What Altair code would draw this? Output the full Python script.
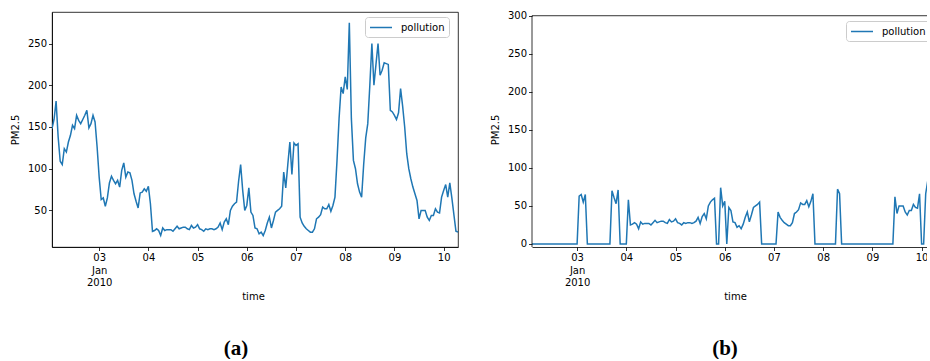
import altair as alt
import pandas as pd

# Hourly PM2.5, panel (a): 2010-01-02 01:00 .. 2010-01-10 07:00
start_a = "2010-01-02 01:00"
pm_a = [
    148, 159, 181, 138, 109, 105, 124, 120, 132, 140, 152, 148, 164, 158, 154, 159, 164, 170, 149, 154, 164, 156, 126,
    90, 63, 65, 55, 65, 83, 91, 86, 82, 86, 78, 98, 107, 90, 96, 95, 86, 70, 61, 53, 71, 72, 76, 73,
    79, 58, 25, 26, 28, 26, 20, 29, 26, 27, 27, 27, 25, 28, 31, 28, 29, 30, 30, 28, 27, 32, 29, 30,
    33, 28, 27, 25, 28, 27, 28, 28, 27, 28, 30, 35, 27, 36, 40, 33, 50, 55, 58, 60, 85, 105, 74, 50,
    56, 77, 48, 44, 29, 28, 22, 24, 20, 26, 35, 42, 29, 38, 48, 50, 52, 55, 96, 77, 105, 132, 93, 131,
    128, 130, 42, 35, 31, 28, 26, 24, 24, 28, 40, 42, 45, 54, 52, 52, 57, 49, 56, 66, 110, 160, 198, 190,
    210, 195, 275, 160, 110, 100, 82, 72, 66, 105, 137, 154, 200, 250, 200, 225, 250, 212, 218, 227, 226, 225, 170, 168,
    164, 159, 167, 196, 175, 150, 118, 100, 88, 78, 70, 62, 40, 50, 50, 50, 42, 38, 44, 44, 52, 48, 47, 66,
    74, 81, 66, 83, 65, 45, 25, 24,
]

# Panel (b): 2010-01-02 02:00 .. 2010-01-10 08:00 (gaps filled with 0)
start_b = "2010-01-02 02:00"
pm_b = [
    0, 0, 0, 0, 0, 0, 0, 0, 0, 0, 0, 0, 0, 0, 0, 0, 0, 0, 0, 0, 0, 0,
    0, 63, 65, 55, 65, 0, 0, 0, 0, 0, 0, 0, 0, 0, 0, 0, 0, 70, 61, 53, 71, 0, 0, 0,
    0, 58, 25, 26, 28, 26, 20, 29, 26, 27, 27, 27, 25, 28, 31, 28, 29, 30, 30, 28, 27, 32, 29, 30,
    33, 28, 27, 25, 28, 27, 28, 28, 27, 28, 30, 35, 27, 36, 40, 33, 50, 55, 58, 60, 0, 0, 74, 50,
    56, 0, 48, 44, 29, 28, 22, 24, 20, 26, 35, 42, 29, 38, 48, 50, 52, 55, 0, 0, 0, 0, 0, 0,
    0, 0, 42, 35, 31, 28, 26, 24, 24, 28, 40, 42, 45, 54, 52, 52, 57, 49, 56, 66, 0, 0, 0, 0,
    0, 0, 0, 0, 0, 0, 0, 72, 66, 0, 0, 0, 0, 0, 0, 0, 0, 0, 0, 0, 0, 0, 0, 0,
    0, 0, 0, 0, 0, 0, 0, 0, 0, 0, 0, 62, 40, 50, 50, 50, 42, 38, 44, 44, 52, 48, 47, 66,
    0, 0, 66, 83, 65, 45, 25, 24, 23,
]

series_name = ["pollution"]
day_ticks = [3, 4, 5, 6, 7, 8, 9, 10]
y_ticks_a = [50, 100, 150, 200, 250]
y_ticks_b = [0, 50, 100, 150, 200, 250, 300]
y_top_b = 300      # upper limit of panel (b)
y_bottom_b = -4    # lower limit of panel (b)
captions = ["(a)", "(b)"]

df_a = pd.DataFrame({
    "time": pd.date_range(start_a, periods=len(pm_a), freq="h").strftime("%Y-%m-%dT%H:%M:%S"),
    "pm": pm_a,
    "series": series_name[0],
})
times_b = pd.date_range(start_b, periods=len(pm_b), freq="h").strftime("%Y-%m-%dT%H:%M:%S")
df_b = pd.DataFrame({"time": times_b, "pm": pm_b, "series": series_name[0]})
# frame of panel (b): top edge at 300 and left edge at the first timestamp
df_b_top = pd.DataFrame({"pm": [y_top_b]})
df_b_left = pd.DataFrame({"time": [times_b[0]], "pm": [y_bottom_b], "pm_top": [y_top_b]})

FONT = "DejaVu Sans"
BLUE = "#1f77b4"

tick_dates = [alt.DateTime(year=2010, month=1, date=d) for d in day_ticks]
label_expr = "date(datum.value) == 3 ? ['03', 'Jan', '2010'] : timeFormat(datum.value, '%d')"


def x_axis(title_x):
    return alt.Axis(
        values=tick_dates, labelExpr=label_expr, title="time", grid=False,
        labelLineHeight=12.5, titlePadding=4, titleFontWeight="normal", titleX=title_x,
    )


def legend(lx, ly):
    return alt.Legend(
        title=None, orient="none", legendX=lx, legendY=ly,
        symbolType="M-1,0L3,0", symbolSize=121, symbolStrokeWidth=1.5,
        labelOffset=19, labelFontSize=10, labelFont=FONT, labelColor="#000000",
        padding=4, strokeColor="#cccccc", fillColor="#ffffff", cornerRadius=3,
    )


chart_a = alt.Chart(df_a).mark_line(strokeWidth=1.5, clip=True).encode(
    x=alt.X("time:T", axis=x_axis(201),
            scale=alt.Scale(domain=[alt.DateTime(year=2010, month=1, date=2, hours=1),
                                    alt.DateTime(year=2010, month=1, date=10, hours=7)])),
    y=alt.Y("pm:Q",
            axis=alt.Axis(values=y_ticks_a, title="PM2.5", grid=False, titlePadding=7,
                          titleFontWeight="normal"),
            scale=alt.Scale(domain=[6.2, 287.8], nice=False, zero=False)),
    color=alt.Color("series:N", scale=alt.Scale(range=[BLUE]), legend=legend(313, 5)),
).properties(
    width=406, height=235,
    title=alt.TitleParams(captions[0], orient="bottom", dx=-19, offset=36),
)

# panel (b): its frame starts a little lower than panel (a)'s
axis_xb = x_axis(203)
scale_xb = alt.Scale(domain=[alt.DateTime(year=2010, month=1, date=2, hours=2),
                             alt.DateTime(year=2010, month=1, date=10, hours=8)])
axis_yb = alt.Axis(values=y_ticks_b, title="PM2.5", grid=False, titlePadding=7,
                   titleFontWeight="normal", domain=False)
scale_yb = alt.Scale(domain=[y_bottom_b, 304.9], nice=False, zero=False)

line_b = alt.Chart(df_b).mark_line(strokeWidth=1.5, clip=True).encode(
    x=alt.X("time:T", axis=axis_xb, scale=scale_xb),
    y=alt.Y("pm:Q", axis=axis_yb, scale=scale_yb),
    color=alt.Color("series:N", scale=alt.Scale(range=[BLUE]), legend=legend(314, 9)),
)
top_spine_b = alt.Chart(df_b_top).mark_rule(color="#000000", strokeWidth=0.8).encode(
    y=alt.Y("pm:Q", axis=axis_yb, scale=scale_yb),
)
left_spine_b = alt.Chart(df_b_left).mark_rule(color="#000000", strokeWidth=0.8).encode(
    x=alt.X("time:T", axis=axis_xb, scale=scale_xb),
    y=alt.Y("pm:Q", axis=axis_yb, scale=scale_yb),
    y2="pm_top:Q",
)
chart_b = alt.layer(line_b, top_spine_b, left_spine_b).properties(
    width=406, height=235,
    view=alt.ViewBackground(stroke="transparent"),
    title=alt.TitleParams(captions[1], orient="bottom", dx=-10, offset=36),
)

chart = alt.hconcat(chart_a, chart_b, spacing=31).resolve_legend(
    color="independent"
).properties(
    padding={"left": 10, "top": 10, "right": -12, "bottom": 0},
    background="#ffffff",
).configure_view(
    stroke="#000000", strokeWidth=0.8,
).configure_axis(
    labelFont=FONT, labelFontSize=10, labelColor="#000000",
    titleFont=FONT, titleFontSize=10, titleFontWeight="normal", titleColor="#000000",
    domainColor="#000000", domainWidth=0.8, tickColor="#000000", tickWidth=0.8,
    tickSize=3.5, labelPadding=2,
).configure_title(
    font="Liberation Serif", fontSize=21, fontWeight="bold", color="#000000",
    anchor="middle",
)

chart.save("out.html", embed_options={"renderer": "svg", "actions": False})
